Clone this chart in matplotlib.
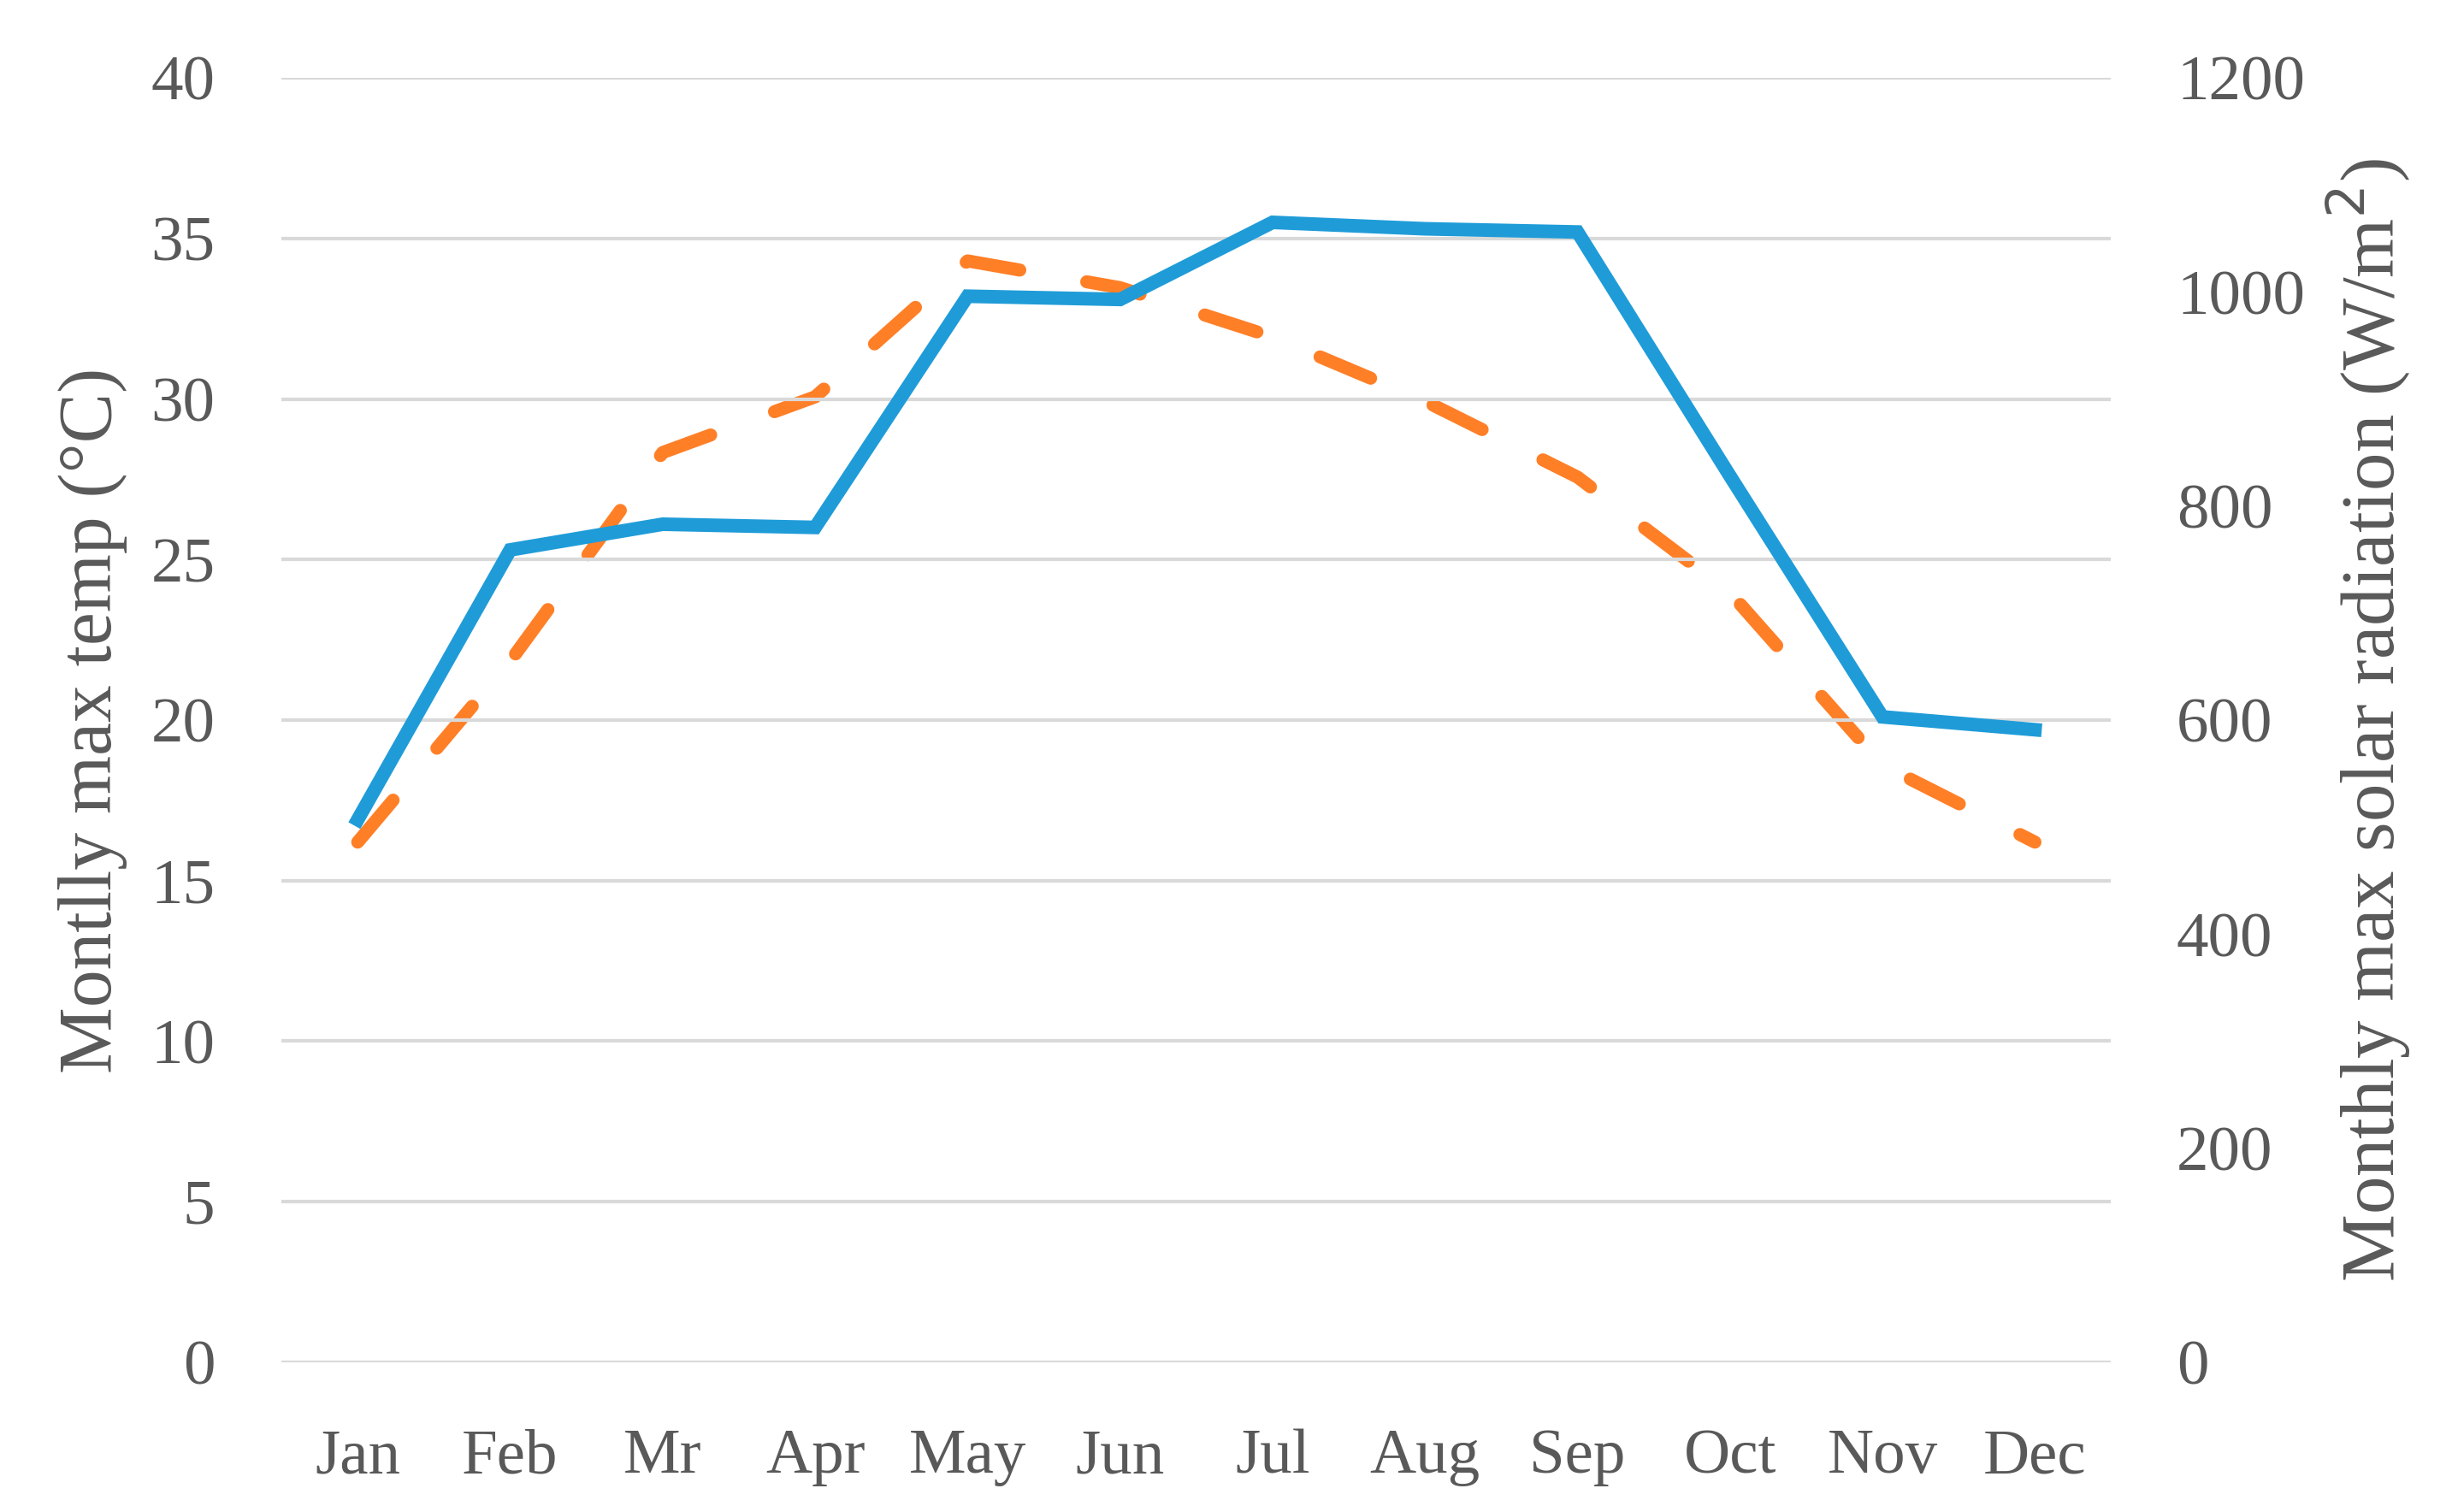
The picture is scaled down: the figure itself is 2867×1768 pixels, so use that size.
import matplotlib
matplotlib.use("Agg")
import matplotlib.pyplot as plt

months = ["Jan", "Feb", "Mr", "Apr", "May", "Jun", "Jul", "Aug", "Sep", "Oct", "Nov", "Dec"]
max_temp = [16.9, 25.3, 26.1, 26.0, 33.2, 33.1, 35.5, 35.3, 35.2, 27.6, 20.1, 19.7]
max_radiation = [486, 655, 850, 902, 1029, 1004, 958, 898, 827, 719, 558, 486]
temp_ticks = [0, 5, 10, 15, 20, 25, 30, 35, 40]
rad_ticks = [0, 200, 400, 600, 800, 1000, 1200]

grey = "#595959"
plt.rcParams["font.family"] = ["Liberation Serif", "DejaVu Serif"]

fig = plt.figure(figsize=(28.67, 17.68), dpi=100)
ax = fig.add_axes([0.1148, 0.099, 0.861 - 0.1148, 0.9485 - 0.099])
ax2 = ax.twinx()

x = list(range(len(months)))
ax.set_ylim(0, 40)
ax.set_xlim(-0.5, 11.5)
ax2.set_ylim(0, 1200)
ax.set_yticks(temp_ticks)
ax2.set_yticks(rad_ticks)
ax.set_xticks(x)
ax.set_xticklabels(months)

ax.grid(axis="y", color="#d9d9d9", linewidth=3)
ax.set_axisbelow(True)
for a in (ax, ax2):
    for s in a.spines.values():
        s.set_visible(False)
    a.tick_params(length=0, labelsize=54, colors=grey)

ax.tick_params(axis="y", pad=56)
ax.tick_params(axis="x", pad=56)
ax2.tick_params(axis="y", pad=55)

ax2.plot(x, max_radiation, color="#ff7f27", linewidth=11, linestyle=(0, (4.2, 5.2)),
         dash_capstyle="round", solid_capstyle="round", zorder=2)
ax.plot(x, max_temp, color="#1f9cd8", linewidth=11.5, solid_joinstyle="miter", zorder=3)
ax.set_zorder(ax2.get_zorder() + 1)
ax.patch.set_visible(False)

ax.set_ylabel("Montlly max temp (°C)", fontsize=63, color=grey, labelpad=20)
ax2.set_ylabel("Monthly max solar radiation (W/m$^2$)", fontsize=64, color=grey, labelpad=16)

fig.savefig("out.png", dpi=100)
